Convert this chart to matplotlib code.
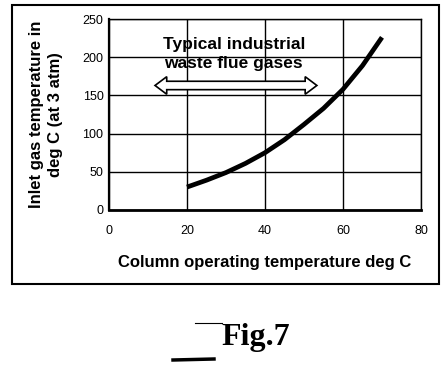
import numpy as np
import matplotlib
matplotlib.use("Agg")
import matplotlib.pyplot as plt
from matplotlib.patches import Polygon, Rectangle
from matplotlib.lines import Line2D

# curve
col_temp = [20, 25, 30, 35, 40, 45, 50, 55, 60, 65, 70]
inlet_temp = [30, 39, 49, 61, 75, 92, 112, 133, 158, 189, 226]

x_ticks = [0, 20, 40, 60, 80]
y_ticks = [0, 50, 100, 150, 200, 250]

# range of typical industrial waste flue gases (double arrow)
arrow_x0, arrow_x1, arrow_y = 11.8, 53.3, 163

plt.rcParams['font.family'] = ['Liberation Sans', 'DejaVu Sans']

fig = plt.figure(figsize=(4.44, 3.77), dpi=100)
ax = fig.add_axes([0.2455, 0.443, 0.7027, 0.5066])

ax.plot(col_temp, inlet_temp, color='black', lw=3.4, solid_capstyle='butt')
ax.set_xlim(0, 80)
ax.set_ylim(0, 250)
ax.set_xticks(x_ticks)
ax.set_yticks(y_ticks)
ax.grid(True, color='black', lw=1.0)
ax.tick_params(length=0, labelsize=9, pad=11)
ax.tick_params(axis='y', pad=4)
for s in ax.spines.values():
    s.set_linewidth(1.0)
ax.spines['bottom'].set_linewidth(2)
ax.spines['left'].set_linewidth(1.6)

ax.set_xlabel("Column operating temperature deg C", fontsize=12, fontweight='bold', labelpad=13)
ax.set_ylabel("Inlet gas temperature in\ndeg C (at 3 atm)", fontsize=12, fontweight='bold',
              labelpad=14, linespacing=1.3)

ax.text(32, 204, "Typical industrial\nwaste flue gases", ha='center', va='center',
        fontsize=12.5, fontweight='bold', linespacing=1.3)

# hollow double arrow
hl, hw, sw = 3.0, 11.5, 5.5
pts = [(arrow_x0, arrow_y),
       (arrow_x0 + hl, arrow_y + hw), (arrow_x0 + hl, arrow_y + sw),
       (arrow_x1 - hl, arrow_y + sw), (arrow_x1 - hl, arrow_y + hw),
       (arrow_x1, arrow_y),
       (arrow_x1 - hl, arrow_y - hw), (arrow_x1 - hl, arrow_y - sw),
       (arrow_x0 + hl, arrow_y - sw), (arrow_x0 + hl, arrow_y - hw)]
ax.add_patch(Polygon(pts, closed=True, fc='white', ec='black', lw=1.2, zorder=3, clip_on=False))

# outer frame
fig.patches.append(Rectangle((12/444, 1-284/377), 427/444, 279/377, transform=fig.transFigure,
                             fill=False, ec='black', lw=1.5))

# figure caption
fig.text(256/444, 1-337/377, "Fig.7", ha='center', va='center', fontsize=23,
         fontweight='bold', family=['Liberation Serif', 'DejaVu Serif'])
fig.lines.append(Line2D([173/444, 214/444], [1-360/377, 1-359/377], transform=fig.transFigure,
                        color='black', lw=2.5))
fig.lines.append(Line2D([195/444, 222/444], [1-323/377, 1-323/377], transform=fig.transFigure,
                        color='black', lw=0.8))

fig.savefig("out.png", dpi=100)
